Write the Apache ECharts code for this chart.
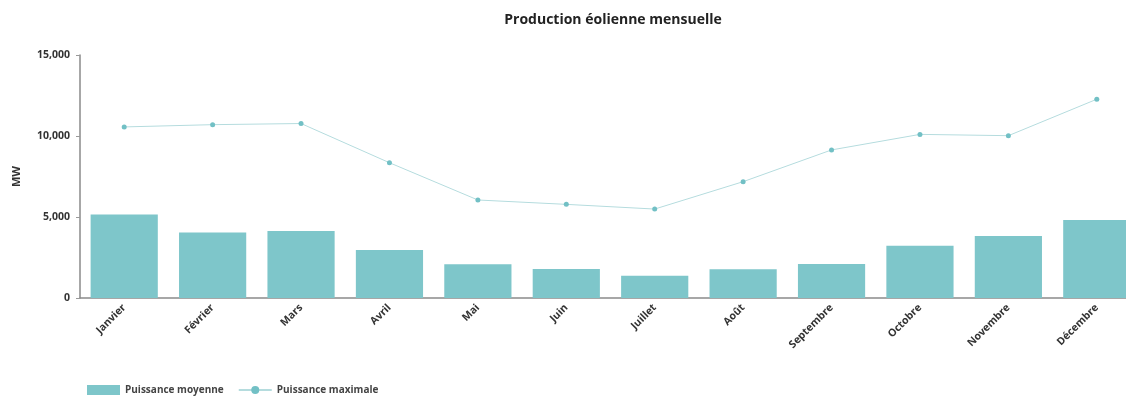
<!DOCTYPE html>
<html>
<head>
<meta charset="utf-8">
<script src="https://cdn.jsdelivr.net/npm/echarts@6/dist/echarts.min.js"></script>
<style>
  html, body { margin: 0; padding: 0; background: #fff; }
  #chart { width: 1126px; height: 398px; }
</style>
</head>
<body>
<div id="chart"></div>
<script>
// mois
const months = ['Janvier', 'Février', 'Mars', 'Avril', 'Mai', 'Juin', 'Juillet', 'Août', 'Septembre', 'Octobre', 'Novembre', 'Décembre']
// MW
const puissanceMoyenne = [5150, 4050, 4130, 2960, 2080, 1790, 1380, 1770, 2100, 3230, 3830, 4810]
const puissanceMaximale = [10560, 10700, 10770, 8350, 6050, 5780, 5490, 7180, 9140, 10100, 10020, 12270]
const yTicks = [0, 5000, 10000, 15000]

const font = '"Open Sans", "Noto Sans", sans-serif'
const chart = echarts.init(document.getElementById('chart'))

chart.setOption({
  animation: false,
  title: {
    text: 'Production éolienne mensuelle',
    left: 608,
    top: 8,
    textAlign: 'center',
    textStyle: { fontFamily: font, fontSize: 14, fontWeight: 'bold', color: '#222' }
  },
  // the plot runs past the right edge of the picture
  grid: { left: 80, width: 1061, top: 55, height: 243, outerBoundsMode: 'none', containLabel: false },
  legend: {
    left: 82,
    top: 380,
    itemWidth: 33,
    itemHeight: 10,
    itemGap: 14,
    textStyle: { fontFamily: font, fontSize: 10, fontWeight: 'bold', color: '#444' },
    data: [
      { name: 'Puissance moyenne', icon: 'rect' },
      { name: 'Puissance maximale' }
    ]
  },
  xAxis: {
    type: 'category',
    data: months,
    axisLine: { lineStyle: { color: '#8a8a8a', width: 1.5 } },
    axisTick: { alignWithLabel: true, length: 3, lineStyle: { color: '#999' } },
    axisLabel: {
      rotate: 45,
      margin: 8,
      fontFamily: font,
      fontSize: 10.5,
      fontWeight: 'bold',
      color: '#333'
    }
  },
  yAxis: {
    type: 'value',
    min: yTicks[0],
    max: yTicks[yTicks.length - 1],
    interval: 5000,
    name: 'MW',
    nameLocation: 'middle',
    nameGap: 58,
    nameRotate: 90,
    nameTextStyle: { fontFamily: font, fontSize: 11, fontWeight: 'bold', color: '#333' },
    axisLine: { show: true, lineStyle: { color: '#8a8a8a', width: 1.5 } },
    axisTick: { show: true, length: 4, lineStyle: { color: '#999' } },
    splitLine: { show: false },
    axisLabel: {
      margin: 10,
      fontFamily: font,
      fontSize: 10.5,
      fontWeight: 'bold',
      color: '#333',
      formatter: function(v) { return v.toLocaleString('en-US') }
    }
  },
  series: [
    {
      name: 'Puissance moyenne',
      type: 'bar',
      barCategoryGap: '24%',
      itemStyle: { color: '#7ec6ca' },
      data: puissanceMoyenne
    },
    {
      name: 'Puissance maximale',
      type: 'line',
      symbol: 'circle',
      symbolSize: 5,
      itemStyle: { color: '#72c0c5' },
      lineStyle: { color: '#b5dcde', width: 1 },
      data: puissanceMaximale
    }
  ]
})
</script>
</body>
</html>
